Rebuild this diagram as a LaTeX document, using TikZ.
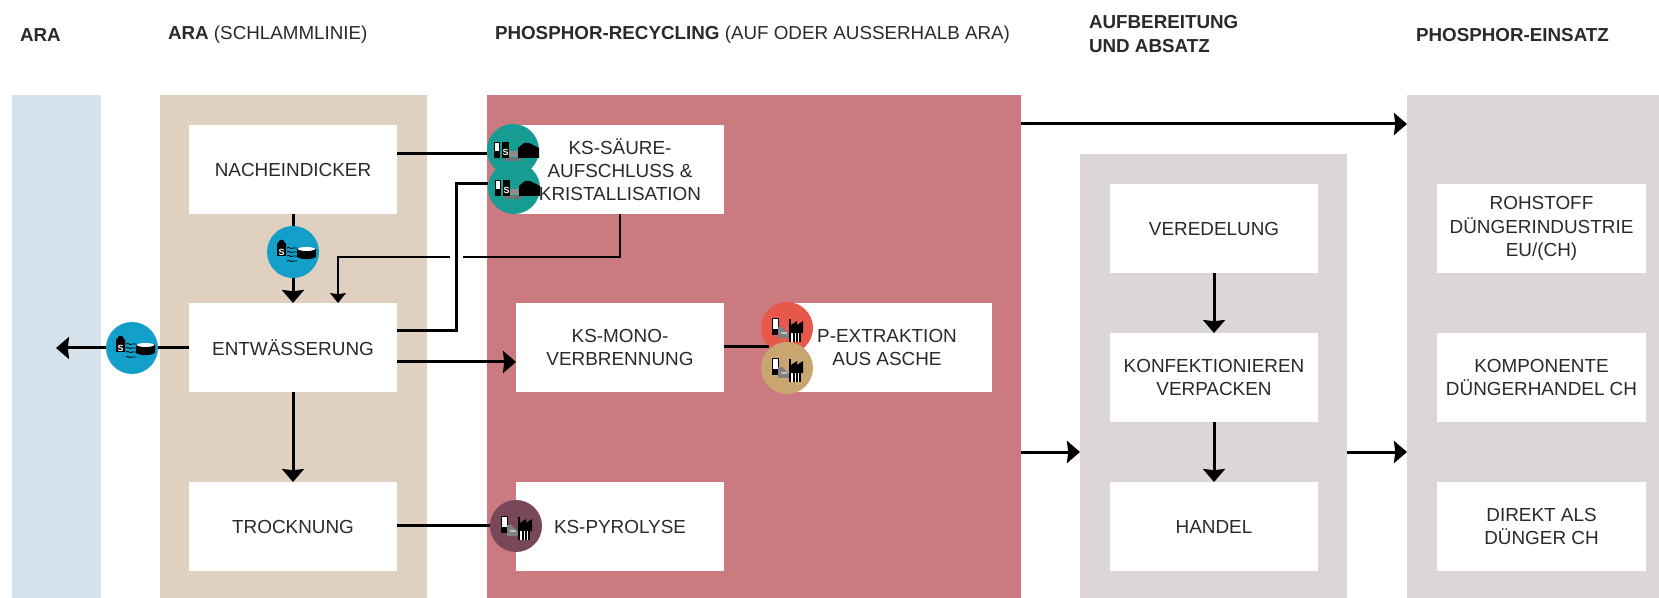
\documentclass[tikz,border=0pt]{standalone}
\usepackage{fontspec}
\setmainfont{Liberation Sans}
\usetikzlibrary{arrows.meta}
\definecolor{txt}{HTML}{2A2A2A}
\definecolor{pblue}{HTML}{D5E1EB}
\definecolor{ptan}{HTML}{E0D0C0}
\definecolor{pred}{HTML}{CB7A80}
\definecolor{pgray}{HTML}{DDD6D6}
\definecolor{cteal}{HTML}{169C93}
\definecolor{cblue}{HTML}{12A0CB}
\definecolor{cred}{HTML}{E8584A}
\definecolor{ctan}{HTML}{C9A66F}
\definecolor{cpyr}{HTML}{78475A}
\tikzset{
  x=0.5pt,y=-0.5pt,
  every node/.style={outer sep=0pt},
  panel/.style={draw=none,inner sep=0pt},
  wbox/.style={fill=white,draw=none,inner sep=0pt,minimum width=104pt,minimum height=44.5pt,align=center,text=txt,font=\fontsize{9.45}{11.6}\selectfont},
  head/.style={anchor=west,inner sep=0pt,text=txt,font=\fontsize{9.4}{11.6}\selectfont,align=left},
  badge/.style={circle,draw=none,inner sep=0pt,minimum size=26pt},
  flow/.style={line width=1.5pt,black,-{Stealth[length=6.5pt,width=11pt,inset=.6pt]}},
  plain/.style={line width=1.5pt,black},
  thinflow/.style={line width=0.75pt,black,-{Stealth[length=5pt,width=8pt,inset=.6pt]}},
  thinline/.style={line width=0.75pt,black},
  pics/acidicon/.style={code={
    \fill[white,draw=black,line width=.4pt] (-19,-8) rectangle (-14,7);
    \fill[black] (-19,1) rectangle (-14,7);
    \fill[black] (-11,-8) rectangle (-4,8);
    \node[text=white,inner sep=0pt,font=\bfseries\fontsize{4.5}{4.5}\selectfont] at (-7.5,2) {S};
    \fill[black!55] (-9,8) rectangle (8,11);
    \fill[black!45] (-4,1) rectangle (5,7);
    \fill[black] (5,8) -- (5,-2) -- (11,-7) -- (16,-7) -- (26,-2) -- (26,8) -- cycle;
  }},
  pics/tankicon/.style={code={
    \fill[black] (-16,-8) -- (-13,-12) -- (-10,-12) -- (-7,-8) -- (-7,4) -- (-16,4) -- cycle;
    \node[text=white,inner sep=0pt,font=\bfseries\fontsize{4.5}{4.5}\selectfont] at (-11.5,0) {S};
    \foreach \yy in {-4,0,4,9}
      \draw[black,line width=.4pt] (-6,\yy) .. controls (-4,\yy-2) and (-2,\yy+2) .. (0,\yy) .. controls (1,\yy-1) and (3,\yy+1) .. (4,\yy);
    \fill[black] (4,-3) -- (4,5) .. controls (9,8) and (18,8) .. (23,5) -- (23,-3) -- cycle;
    \fill[white] (13.5,-3) ellipse [x radius=8.5, y radius=2];
  }},
  pics/factoryicon/.style={code={
    \fill[white,draw=black,line width=.4pt] (-15,-10) rectangle (-9,6);
    \fill[black] (-15,1) rectangle (-9,6);
    \fill[black!50] (-9,-1) -- (-5,-1) -- (2,6) -- (2,10) -- (-9,10) -- cycle;
    \fill[white!75!black] (-6,4) rectangle (0,6);
    \fill[black] (2,-9) rectangle (4,14);
    \fill[black] (4,5) -- (4,-3) -- (10,-7) -- (10,-3) -- (16,-7) -- (16,5) -- cycle;
    \fill[white] (4,5) rectangle (14,14);
    \foreach \xx in {7,10,13} \fill[black] (\xx-.6,5) rectangle (\xx+.6,14);
  }}
}
\begin{document}
\begin{tikzpicture}
\useasboundingbox (0,0) rectangle (1659,598);
% panels
\fill[pblue] (11.5,95) rectangle (100.5,598);
\fill[ptan] (160,95) rectangle (427,598);
\node[panel,fill=pred,minimum width=267pt,minimum height=251.5pt,anchor=north west] (recyc) at (487,95) {};
\node[panel,fill=pgray,minimum width=133.5pt,minimum height=222pt,anchor=north west] (aufb) at (1080,154) {};
\node[panel,fill=pgray,minimum width=126pt,minimum height=251.5pt,anchor=north west] (einsatz) at (1407,95) {};
% headings
\node[head] (h1) at (20,35) {\textbf{ARA}};
\node[head] (h2) at (168,35) {\textbf{ARA} (SCHLAMMLINIE)};
\node[head] (h3) at (495,35) {\textbf{PHOSPHOR-RECYCLING} (AUF ODER AUSSERHALB ARA)};
\node[head] (h4) at (1089,34) {\textbf{AUFBEREITUNG}\\\textbf{UND ABSATZ}};
\node[head] (h5) at (1416,35) {\textbf{PHOSPHOR-EINSATZ}};
% boxes
\node[wbox] (nach) at (293,169.5) {NACHEINDICKER};
\node[wbox] (ent) at (293,347.5) {ENTWÄSSERUNG};
\node[wbox] (tro) at (293,526.5) {TROCKNUNG};
\node[wbox] (saeure) at (620,169.5) {KS-SÄURE-\\AUFSCHLUSS \&\\KRISTALLISATION};
\node[wbox] (mono) at (620,347.5) {KS-MONO-\\VERBRENNUNG};
\node[wbox] (pyro) at (620,526.5) {KS-PYROLYSE};
\node[wbox,minimum width=104.5pt] (pext) at (887,347.5) {P-EXTRAKTION\\AUS ASCHE};
\node[wbox] (ver) at (1214,228.5) {VEREDELUNG};
\node[wbox] (konf) at (1214,377.5) {KONFEKTIONIEREN\\VERPACKEN};
\node[wbox] (han) at (1214,526.5) {HANDEL};
\node[wbox,minimum width=104.5pt] (roh) at (1541.5,228.5) {ROHSTOFF\\DÜNGERINDUSTRIE\\EU/(CH)};
\node[wbox,minimum width=104.5pt] (komp) at (1541.5,377.5) {KOMPONENTE\\DÜNGERHANDEL CH};
\node[wbox,minimum width=104.5pt] (dir) at (1541.5,526.5) {DIREKT ALS\\DÜNGER CH};
% badges
\node[badge,fill=cteal] (t1) at (513,150) {};
\node[badge,fill=cteal] (t2) at (514,188) {};
\node[badge,fill=cblue] (b1) at (293,252) {};
\node[badge,fill=cblue] (b2) at (132,348) {};
\node[badge,fill=cred] (r1) at (787,328) {};
\node[badge,fill=ctan] (r2) at (787,368) {};
\node[badge,fill=cpyr] (p1) at (516,526) {};
\pic at (t1) {acidicon};
\pic at (t2) {acidicon};
\pic at (b1) {tankicon};
\pic at (b2) {tankicon};
\pic at (r1) {factoryicon};
\pic at (r2) {factoryicon};
\pic at (p1) {factoryicon};
% free ends
\coordinate (out) at (56,348);
\coordinate (gapr) at (463,257);
\coordinate (gapl) at (450,257);
\coordinate (retdrop) at (338,257);
\coordinate (riser) at (456,184);
% connectors
\draw[plain] (nach.south) -- (b1.north);
\draw[flow] (b1.south) -- (ent.north);
\draw[plain] (ent.west |- b2) -- (b2.east);
\draw[flow] (b2.west) -- (out);
\draw[flow] (ent.south) -- (tro.north);
\draw[plain] (nach.east |- 0,154) -- (t1.west |- 0,154);
\draw[plain] (ent.east |- 0,331) -- (riser |- 0,331) -- (riser) -- (t2.west |- 0,184);
\draw[thinline] (saeure.south -| 620,0) -- (620,257) -- (gapr);
\draw[thinflow] (gapl) -- (retdrop) -- (retdrop |- ent.north);
\draw[flow] (ent.east |- 0,362) -- (mono.west |- 0,362);
\draw[plain] (tro.east |- 0,525) -- (p1.west |- 0,525);
\draw[plain] (mono.east |- 0,347) -- (r1.south west |- 0,347);
\draw[flow] (recyc.east |- 0,124) -- (einsatz.west |- 0,124);
\draw[flow] (recyc.east |- 0,452) -- (aufb.west |- 0,452);
\draw[flow] (aufb.east |- 0,452) -- (einsatz.west |- 0,452);
\draw[flow] (ver.south) -- (konf.north);
\draw[flow] (konf.south) -- (han.north);
\end{tikzpicture}
\end{document}
